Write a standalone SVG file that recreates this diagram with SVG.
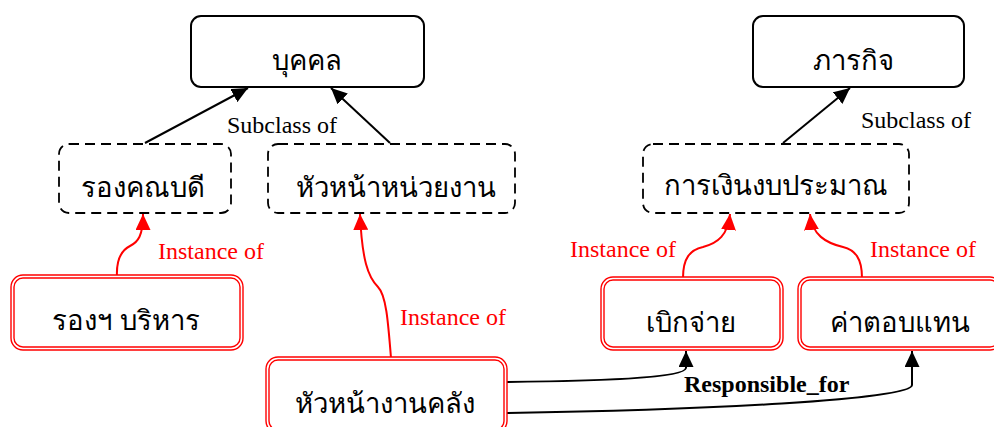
<svg xmlns="http://www.w3.org/2000/svg" width="994" height="427" viewBox="0 0 994 427">
<defs>
<marker id="ab" markerUnits="userSpaceOnUse" markerWidth="17" markerHeight="15" refX="16" refY="7.5" orient="auto"><path d="M0,0 L16,7.5 L0,15 z" fill="#000"/></marker>
<marker id="ar" markerUnits="userSpaceOnUse" markerWidth="17" markerHeight="15" refX="16" refY="7.5" orient="auto"><path d="M0,0 L16,7.5 L0,15 z" fill="#ff0000"/></marker>
<style>
.cls{fill:#fff;stroke:#000;stroke-width:2}
.sub{fill:#fff;stroke:#000;stroke-width:1.8;stroke-dasharray:10,6}
.ins{fill:#fff;stroke:#ff0000;stroke-width:1.4}
.th{font-family:"Noto Sans","DejaVu Sans",sans-serif;font-size:27.5px;fill:#000;text-anchor:middle}
.lb{font-family:"Liberation Serif",serif;font-size:24px;fill:#000}
.lr{font-family:"Liberation Serif",serif;font-size:24px;fill:#ff0000}
.bl{fill:none;stroke:#000;stroke-width:2}
.rl{fill:none;stroke:#ff0000;stroke-width:2}
</style>
</defs>
<g id="connectors">
<line class="bl" x1="145" y1="143" x2="248" y2="88" marker-end="url(#ab)"/>
<line class="bl" x1="390" y1="143" x2="331" y2="88" marker-end="url(#ab)"/>
<line class="bl" x1="783" y1="143" x2="850" y2="88" marker-end="url(#ab)"/>
<path class="rl" d="M117,277 C116,258 122,250 130,246 C138,242 143,236 143,214" marker-end="url(#ar)"/>
<path class="rl" d="M391,358 C388,320 386,295 378,287 C368,277 362,260 360,214" marker-end="url(#ar)"/>
<path class="rl" d="M683,278 C683,258 690,250 703,247 C718,243 728,235 730,214" marker-end="url(#ar)"/>
<path class="rl" d="M862,278 C862,258 855,250 843,247 C826,243 812,235 810,214" marker-end="url(#ar)"/>
<path class="bl" d="M507,382 C600,381 685,378 686,368 L686,351" marker-end="url(#ab)"/>
<path class="bl" d="M507,413 C700,410 912,400 912,385 L912,351" marker-end="url(#ab)"/>
<text class="lb" x="227" y="133">Subclass of</text>
<text class="lb" x="861" y="128">Subclass of</text>
<text class="lr" x="158" y="259">Instance of</text>
<text class="lr" x="400" y="325">Instance of</text>
<text class="lr" x="570" y="257">Instance of</text>
<text class="lr" x="870" y="257">Instance of</text>
<text class="lb" x="684" y="392" font-weight="bold">Responsible_for</text>
</g>
<g id="n-bukkhon"><rect class="cls" x="191" y="16" width="233" height="71" rx="10"/><text class="th" x="307" y="70">บุคคล</text></g>
<g id="n-phakit"><rect class="cls" x="753" y="16" width="211" height="71" rx="10"/><text class="th" x="853" y="70">ภารกิจ</text></g>
<g id="n-rongkhanabodi"><rect class="sub" x="59" y="144" width="172" height="69" rx="10"/><text class="th" x="143" y="197">รองคณบดี</text></g>
<g id="n-huanaunit"><rect class="sub" x="268" y="144" width="247" height="69" rx="10"/><text class="th" x="396" y="197">หัวหน้าหน่วยงาน</text></g>
<g id="n-finance"><rect class="sub" x="643" y="144" width="266" height="69" rx="10"/><text class="th" x="776" y="195">การเงินงบประมาณ</text></g>
<g id="n-rongborihan"><rect class="ins" x="11" y="275" width="232" height="75" rx="12"/><rect class="ins" x="14" y="278" width="226" height="69" rx="9"/><text class="th" x="126" y="330">รองฯ บริหาร</text></g>
<g id="n-huanakhlang"><rect class="ins" x="266" y="357" width="241" height="76" rx="12"/><rect class="ins" x="269" y="360" width="235" height="70" rx="9"/><text class="th" x="385" y="413">หัวหน้างานคลัง</text></g>
<g id="n-berkchai"><rect class="ins" x="601" y="277" width="182" height="73" rx="12"/><rect class="ins" x="604" y="280" width="176" height="67" rx="9"/><text class="th" x="691" y="332">เบิกจ่าย</text></g>
<g id="n-khatopthaen"><rect class="ins" x="798" y="277" width="204" height="73" rx="12"/><rect class="ins" x="801" y="280" width="198" height="67" rx="9"/><text class="th" x="900" y="332">ค่าตอบแทน</text></g>
</svg>
